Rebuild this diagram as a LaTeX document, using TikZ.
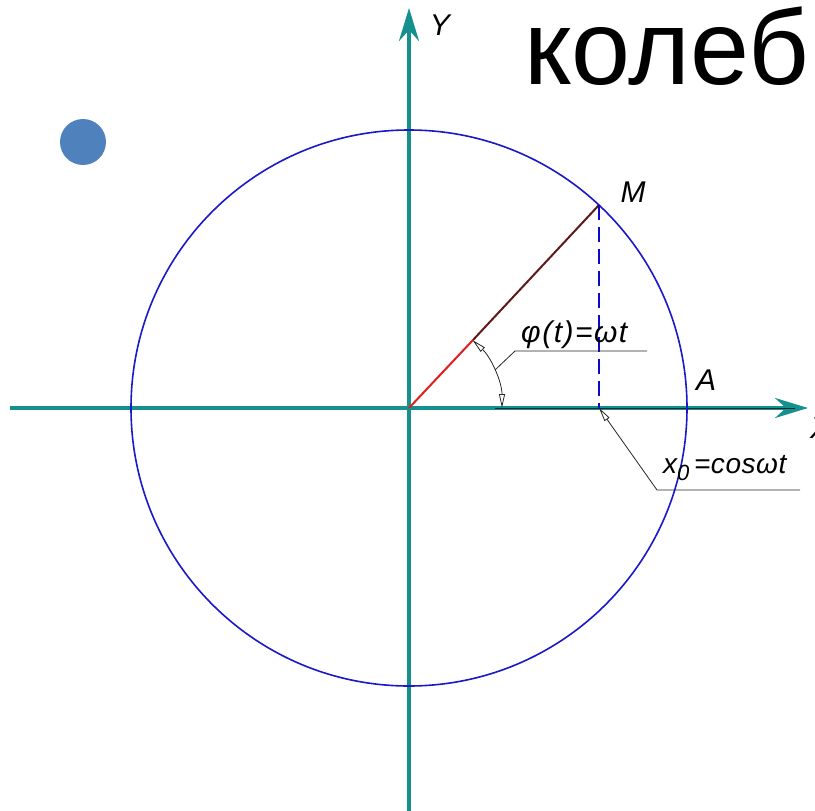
\documentclass[tikz,border=0pt]{standalone}
\usepackage{fontspec}
\setmainfont{Liberation Sans}
\usetikzlibrary{arrows.meta}
\definecolor{axisteal}{RGB}{22,143,143}
\definecolor{circblue}{RGB}{25,25,200}
\definecolor{dashblue}{RGB}{10,10,200}
\definecolor{dotblue}{RGB}{79,129,189}
\definecolor{vecred}{RGB}{225,30,30}
\definecolor{vecdark}{RGB}{95,25,25}
\tikzset{
  axisline/.style={axisteal, line width=4pt, -{Stealth[length=33pt, width=20pt, inset=11pt]}},
  circline/.style={circblue, line width=1.6pt},
  dashline/.style={dashblue, line width=2.6pt, dash pattern=on 15pt off 7pt},
  leader/.style={black!85, line width=0.8pt},
  opentip/.tip={Triangle[open, length=14pt, width=6pt]},
  lab/.style={font=\fontsize{30}{30}\selectfont\itshape, inner sep=0pt},
  form/.style={font=\fontsize{30}{30}\selectfont\itshape\addfontfeature{LetterSpace=5}, inner sep=0pt},
}
\begin{document}
\begin{tikzpicture}[x=1pt, y=-1pt]
\useasboundingbox (0,0) rectangle (815,811);
\clip (0,0) rectangle (815,811);
% key points
\coordinate (O) at (409,408);
\coordinate (xs) at (10,408);
\coordinate (xe) at (808,408);
\coordinate (ys) at (409,811);
\coordinate (ye) at (409,8);
\coordinate (M) at (599,205);
\coordinate (F) at (599,408);
\coordinate (R) at (473,340);
\coordinate (arcS) at (502,408);
\coordinate (arcMid) at (495,370);
\coordinate (phiK) at (515,351);
\coordinate (phiE) at (647,351);
\coordinate (xK) at (657,490);
\coordinate (xE) at (800,490);
\coordinate (dimS) at (495,408);
\coordinate (dimE) at (795,408);
% blue dot
\fill[dotblue] (83,142) circle[radius=23];
% title text
\node[anchor=base west, inner sep=0pt, font=\fontsize{106}{106}\selectfont] (title) at (524,84) {колеб};
% axes
\draw[axisline] (xs) -- (xe);
\draw[axisline] (ys) -- (ye);
\draw[black!70!axisteal, line width=1pt] (dimS) -- (dimE);
% circle
\draw[circline] (O) circle[radius=278];
% radius vector
\draw[vecred, line width=2pt] (O) -- (R);
\draw[vecdark, line width=2pt] (R) -- (M);
% projection
\draw[dashline] (M) -- (F);
% angle arc
\draw[leader, opentip-opentip] (arcS) arc[start angle=0, end angle=-46.9, radius=93];
\draw[leader] (arcMid) -- (phiK) -- (phiE);
\node[form, anchor=base west] (phi) at (521,342) {φ(t)=ωt};
% x0 leader
\draw[leader, opentip-] (F) -- (xK) -- (xE);
\node[form, anchor=base west, font=\fontsize{28}{28}\selectfont\itshape\addfontfeature{LetterSpace=2}] (xo) at (663,473) {x\raisebox{-7pt}{\fontsize{22}{22}\selectfont 0}\,=cosωt};
% labels
\node[lab] (Ylab) at (440,25) {Y};
\node[lab] (Mlab) at (633,192) {M};
\node[lab] (Alab) at (706,380) {A};
\node[lab] (Xlab) at (820,428) {X};
\end{tikzpicture}
\end{document}
